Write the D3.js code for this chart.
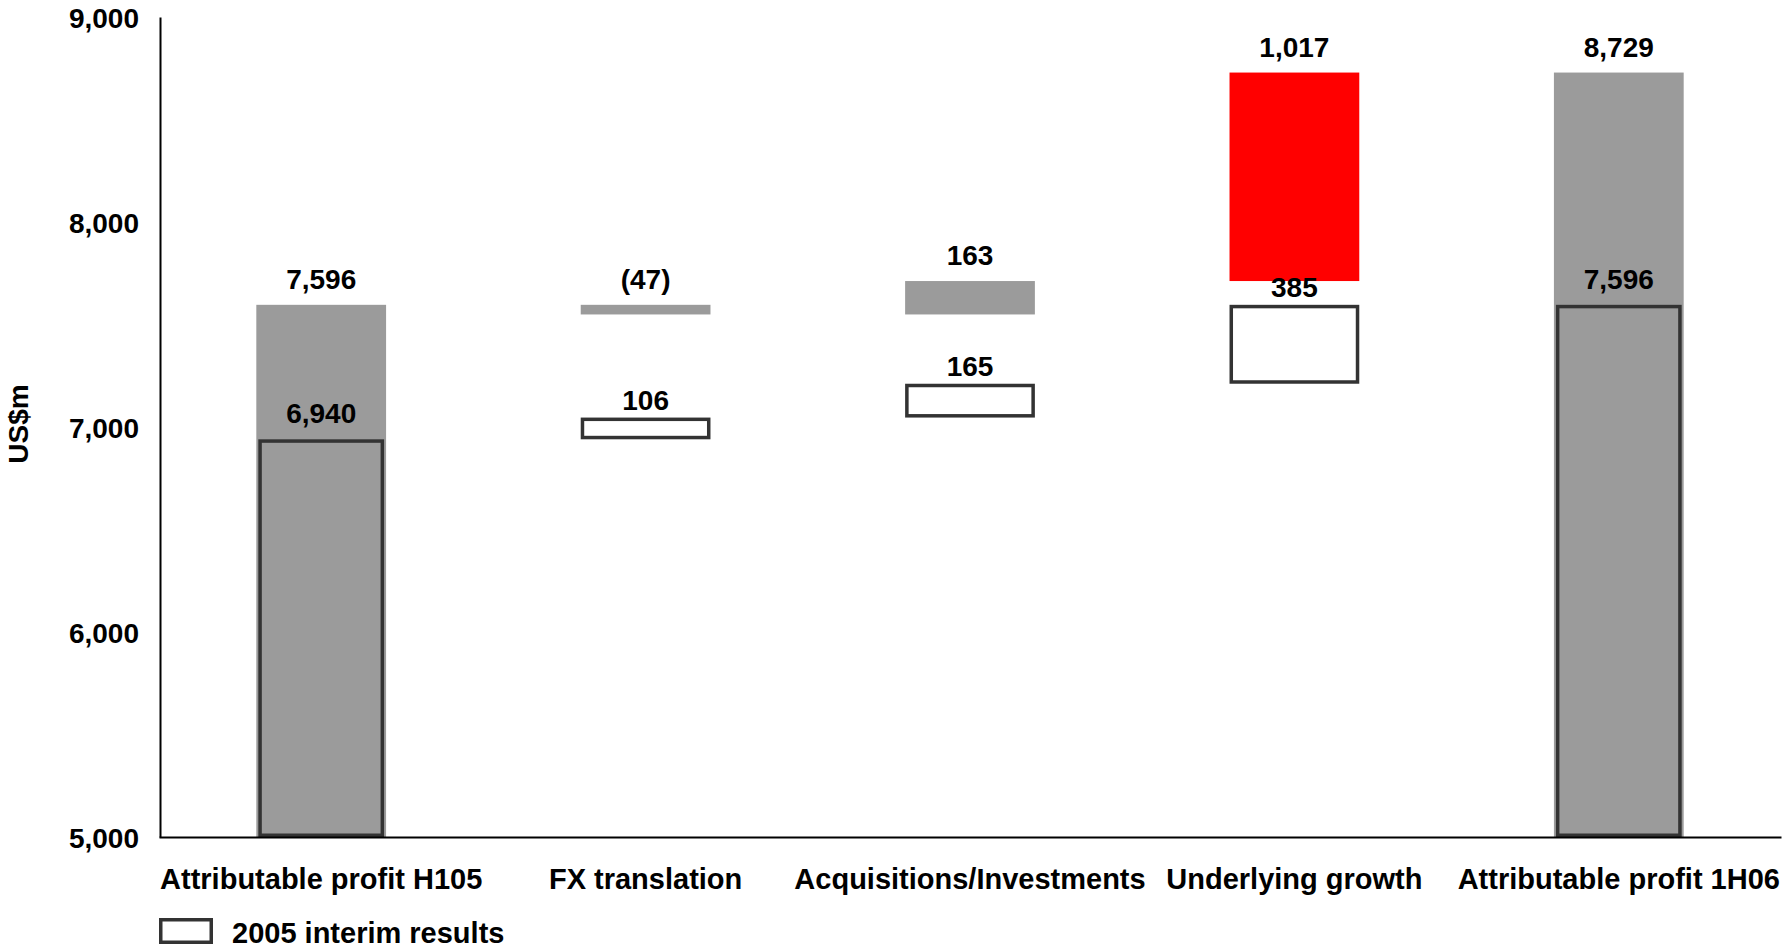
<!DOCTYPE html>
<html>
<head>
<meta charset="utf-8">
<script src="https://cdn.jsdelivr.net/npm/d3@7"></script>
<style>
  html, body { margin: 0; padding: 0; background: #fff; }
  svg { display: block; font-family: "Liberation Sans", Arial, sans-serif; font-weight: bold; }
</style>
</head>
<body>
<svg id="chart" width="1784" height="950"></svg>
<script>
// Attributable profit bridge, US$m
const categories = [
  "Attributable profit H105",
  "FX translation",
  "Acquisitions/Investments",
  "Underlying growth",
  "Attributable profit 1H06"
];
// "total" bars start from the axis floor, "delta" bars float on the running sum
const barKinds = ["total", "delta", "delta", "delta", "total"];
// 2006 interim bridge
const currentValues = [7596, -47, 163, 1017, 8729];
// 2005 interim results (outlined boxes)
const priorValues = [6940, 106, 165, 385, 7596];
const yTicks = [5000, 6000, 7000, 8000, 9000];
const legendLabel = "2005 interim results";
const yTitle = "US$m";
const highlightCategory = "Underlying growth";

const W = 1784, H = 950;
const margin = { top: 17, right: 3, bottom: 113, left: 159 };
const svg = d3.select("#chart");

const x = d3.scaleBand()
  .domain(categories)
  .range([margin.left, W - margin.right])
  .paddingInner(0.6)
  .paddingOuter(0.3);

const y = d3.scaleLinear()
  .domain([5000, 9000])
  .range([H - margin.bottom, margin.top]);

// Turn a value series into floating segments
function bridge(values) {
  let running = y.domain()[0];
  return values.map((v, i) => {
    let lo, hi;
    if (barKinds[i] === "total") {
      lo = y.domain()[0]; hi = v; running = v;
    } else {
      const next = running + v;
      lo = Math.min(running, next); hi = Math.max(running, next);
      running = next;
    }
    return { cat: categories[i], value: v, lo, hi, kind: barKinds[i] };
  });
}

const current = bridge(currentValues);
const prior = bridge(priorValues);

const fmt = d3.format(",");
const label = v => v < 0 ? "(" + fmt(-v) + ")" : fmt(v);

const GREY = "#9b9b9b", RED = "#ff0000", OUTLINE = "#333333", SW = 3.5;

// 2006 bars
svg.append("g").selectAll("rect")
  .data(current)
  .join("rect")
  .attr("x", d => x(d.cat))
  .attr("width", x.bandwidth())
  .attr("y", d => y(d.hi))
  .attr("height", d => y(d.lo) - y(d.hi))
  .attr("fill", d => d.cat === highlightCategory ? RED : GREY);

// 2005 outlined boxes
svg.append("g").selectAll("rect")
  .data(prior)
  .join("rect")
  .attr("x", d => x(d.cat) + SW / 2 + (d.kind === "total" ? 2 : 0))
  .attr("width", d => x.bandwidth() - SW - (d.kind === "total" ? 4 : 0))
  .attr("y", d => y(d.hi) + SW / 2)
  .attr("height", d => y(d.lo) - y(d.hi) - SW)
  .attr("fill", "none")
  .attr("stroke", OUTLINE)
  .attr("stroke-width", SW);

// Axes
const yAxis = svg.append("g")
  .attr("transform", `translate(${margin.left + 1},0)`)
  .call(d3.axisLeft(y).tickValues(yTicks).tickFormat(fmt).tickSize(0).tickSizeOuter(0).tickPadding(21));
yAxis.select(".domain").attr("stroke", "#000").attr("stroke-width", 2);
yAxis.selectAll("text").attr("font-size", 28).attr("font-family", "Liberation Sans, Arial, sans-serif")
  .attr("font-weight", "bold").attr("fill", "#000").attr("dy", "0.36em");

const xAxis = svg.append("g")
  .attr("transform", `translate(0,${H - margin.bottom})`)
  .call(d3.axisBottom(x).tickSize(0).tickSizeOuter(0).tickPadding(0));
xAxis.select(".domain").attr("stroke", "#000").attr("stroke-width", 2);
xAxis.selectAll("text").attr("font-size", 29).attr("font-family", "Liberation Sans, Arial, sans-serif")
  .attr("font-weight", "bold").attr("fill", "#000").attr("y", 52).attr("dy", 0);

// Value labels
svg.append("g").selectAll("text")
  .data(current)
  .join("text")
  .attr("x", d => x(d.cat) + x.bandwidth() / 2)
  .attr("y", d => y(d.hi) - 16)
  .attr("text-anchor", "middle")
  .attr("font-size", 28)
  .text(d => label(d.value));

svg.append("g").selectAll("text")
  .data(prior)
  .join("text")
  .attr("x", d => x(d.cat) + x.bandwidth() / 2)
  .attr("y", d => y(d.hi) - (d.kind === "total" ? 16 : 8))
  .attr("text-anchor", "middle")
  .attr("font-size", 28)
  .text(d => label(d.value));

// Y title
svg.append("text")
  .attr("transform", "translate(28,424) rotate(-90)")
  .attr("text-anchor", "middle")
  .attr("font-size", 28)
  .text(yTitle);

// Legend
const lg = svg.append("g").attr("transform", `translate(${margin.left},918)`);
lg.append("rect")
  .attr("x", SW / 2).attr("y", SW / 2)
  .attr("width", 54 - SW).attr("height", 26 - SW)
  .attr("fill", "#fff").attr("stroke", OUTLINE).attr("stroke-width", SW);
lg.append("text")
  .attr("x", 73).attr("y", 25)
  .attr("font-size", 29)
  .text(legendLabel);
</script>
</body>
</html>
